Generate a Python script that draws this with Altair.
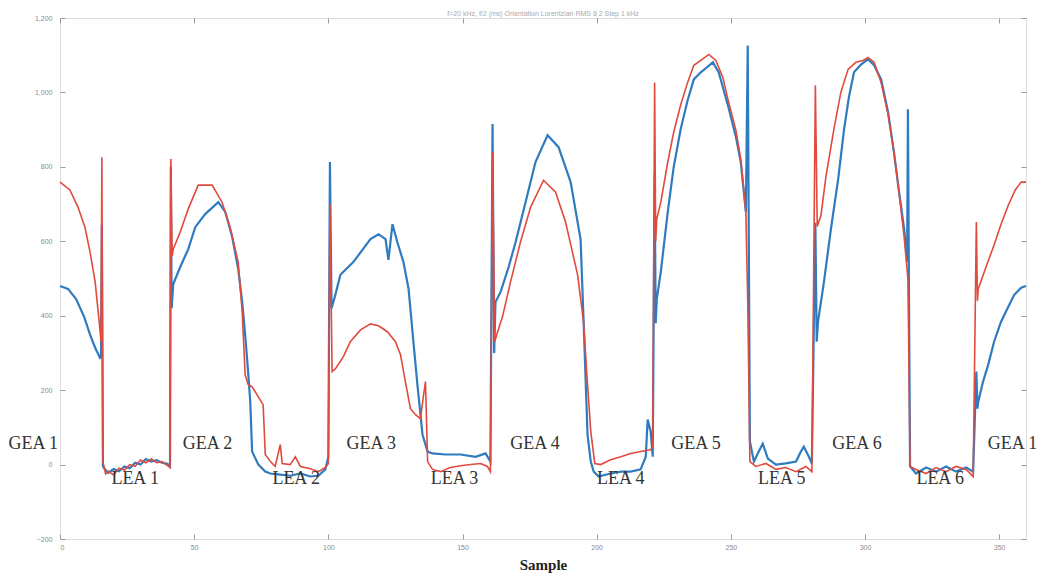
import altair as alt
import pandas as pd

# ---- data ----
blue_x = [0, 3.0, 6.0, 9.0, 11.2, 13.1, 14.9, 15.3, 15.6, 15.8, 16.0,
          17, 18, 20, 22, 24, 26, 28, 30, 32, 34, 36, 38, 40, 41,
          41.3, 41.6, 42.2, 44.8, 47.8, 50.4, 54.1, 59.0, 61.6, 64.2, 66.4, 67.9, 69.0, 70.1, 70.9, 71.6, 73.9, 76.5,
          78.4, 82.1, 85.8, 89.6, 93.3, 96.3, 98.9, 100.0,
          100.6, 101.2, 102.6, 104.5, 109.3, 112.7, 115.7, 118.7, 121.3, 122.4, 123.9, 125.7, 128.0, 129.9, 131.7, 133.2, 135.1, 137.0,
          138.8, 143.7, 149.3, 154.9, 158.6, 160.4,
          161.2, 161.8, 162.3, 164.2, 167.2, 169.8, 173.5, 177.2, 181.7, 185.8, 190.3, 194.0, 195.1, 196.6, 197.8, 198.9,
          200.7, 205.2, 209.0, 212.7, 216.4, 218.3, 219.0, 220.1, 220.9,
          221.6, 222.0, 222.4, 223.9, 226.5, 228.7, 231.3, 233.9, 236.2, 238.8, 241.0, 243.3, 245.5, 248.9, 251.9, 253.7, 255.6, 256.3, 257.1,
          258.6, 260.4, 261.9, 263.8, 266.8, 270.5, 274.3, 276.1, 277.2, 279.1, 280.2,
          281.5, 282.0, 282.5, 284.7, 287.3, 290.0, 292.2, 294.0, 295.9, 298.5, 301.1, 303.4, 306.0, 308.6, 310.8, 312.7, 314.6, 315.7, 316.0, 316.4, 316.8,
          319.0, 322.8, 326.5, 330.2, 333.9, 337.7, 340.3,
          341.5, 341.9, 342.2, 344.0, 345.9, 348.1, 350.7, 353.4, 355.6, 358.2, 360]
blue_y = [480, 472, 445, 397, 349, 314, 287, 290, 644, 300, -5,
          -15, -22, -12, -18, -5, -10, 5, 0, 15, 8, 12, 5, 2, -5,
          800, 420, 485, 531, 579, 638, 673, 705, 679, 611, 526, 437, 349, 249, 169, 35, 0, -19,
          -24, -27, -30, -24, -32, -30, -13, 21,
          813, 420, 456, 510, 544, 577, 606, 619, 606, 550, 646, 598, 544, 472, 330, 215, 80, 35,
          30, 27, 27, 21, 30, 8,
          915, 300, 437, 464, 531, 598, 705, 813, 885, 853, 759, 606, 392, 80, 8, -19,
          -32, -24, -19, -19, -13, 21, 121, 89, 21,
          780, 380, 445, 518, 679, 799, 901, 979, 1035, 1054, 1067, 1081, 1054, 966, 880, 813, 679, 1126, 62,
          8, 35, 56, 16, 0, 3, 8, 35, 48, 21, 3,
          650, 330, 384, 491, 633, 767, 901, 987, 1054, 1075, 1089, 1073, 1035, 947, 839, 732, 633, 544, 955, 437, -5,
          -24, -8, -19, -5, -19, -8, -19,
          250, 150, 169, 223, 268, 330, 384, 424, 456, 475, 480]

red_x = [0, 3.7, 6.7, 9.3, 11.2, 13.1, 14.6, 15.3, 15.6, 16.0,
         17, 18, 20, 22, 24, 26, 28, 30, 32, 34, 36, 38, 40, 41,
         41.3, 41.8, 42.2, 44.8, 47.8, 51.5, 56.7, 60.4, 63.4, 66.4, 67.9, 69.0, 70.1, 71.6, 73.9, 75.7, 76.5,
         78.4, 80.2, 82.1, 82.8, 85.8, 87.7, 89.6, 93.3, 96.3, 98.9, 100.0,
         100.6, 101.4, 102.6, 105.6, 108.2, 112.0, 115.7, 118.7, 122.0, 125.0, 126.9, 128.7, 130.6, 132.5, 134.3, 135.4, 136.2, 137.0,
         138.8, 141.8, 145.5, 149.3, 153.0, 156.7, 159.3, 160.4,
         161.2, 162.0, 163.1, 164.9, 167.9, 171.6, 175.4, 180.2, 184.7, 188.4, 192.9, 195.1, 196.6, 197.8, 199.3,
         201.5, 205.2, 209.0, 212.7, 216.4, 220.1, 220.9,
         221.6, 222.0, 222.4, 223.9, 226.5, 228.7, 231.3, 233.9, 236.2, 238.8, 241.8, 244.4, 247.0, 248.9, 251.9, 253.7, 255.6, 256.3, 257.1,
         259.3, 263.1, 266.8, 270.5, 274.3, 278.0, 280.2,
         281.5, 282.2, 283.6, 285.4, 288.4, 291.0, 293.7, 296.6, 299.3, 301.1, 303.4, 306.0, 308.6, 310.8, 312.7, 314.6, 316.0, 316.8,
         319.0, 322.8, 326.5, 330.2, 333.9, 337.7, 340.3,
         341.5, 341.9, 342.2, 345.1, 348.1, 350.7, 353.4, 356.0, 358.2, 360]
red_y = [759, 738, 692, 638, 571, 491, 384, 330, 826, 8,
         -25, -18, -28, -10, -15, 0, -5, 12, 5, 15, 5, 8, -2, -8,
         821, 560, 579, 625, 687, 751, 751, 705, 638, 544, 410, 241, 215, 209, 182, 161, 27,
         8, -5, 54, 3, 0, 21, -5, -11, -19, -8, 3,
         700, 250, 257, 290, 330, 362, 378, 373, 357, 330, 295, 223, 150, 134, 123, 182, 223, 8,
         -13, -19, -8, -3, 0, 3, -5, -19,
         840, 330, 357, 397, 491, 598, 692, 764, 732, 652, 510, 384, 215, 89, 3,
         0, 13, 21, 30, 35, 40, 48,
         1027, 600, 660, 705, 813, 893, 966, 1027, 1073, 1086, 1102, 1086, 1041, 982, 898, 821, 679, 437, 8,
         -5, 3, -13, -8, -19, -5, -19,
         1019, 640, 670, 772, 901, 1000, 1062, 1081, 1086, 1094, 1081, 1027, 941, 839, 732, 611, 499, -5,
         -13, -24, -8, -19, -5, -13, -32,
         652, 440, 472, 531, 590, 646, 697, 738, 759, 759]

seg_labels = ["GEA 1", "LEA 1", "GEA 2", "LEA 2", "GEA 3", "LEA 3", "GEA 4",
              "LEA 4", "GEA 5", "LEA 5", "GEA 6", "LEA 6", "GEA 1"]
seg_x = [-10, 28, 55, 88, 116, 147, 177, 209, 237, 269, 297, 328, 355]
seg_y = [54, -40, 54, -40, 54, -40, 54, -40, 54, -40, 54, -40, 54]

x_ticks = [0, 50, 100, 150, 200, 250, 300, 350]
y_ticks = [-200, 0, 200, 400, 600, 800, 1000, 1200]

title_text = "f=20 kHz, f/2 (ms)      Orientation Lorentzian   RMS 8      2 Step 1 kHz"

blue_df = pd.DataFrame({"x": blue_x, "y": blue_y, "i": range(len(blue_x))})
red_df = pd.DataFrame({"x": red_x, "y": red_y, "i": range(len(red_x))})
lab_df = pd.DataFrame({"label": seg_labels, "x": seg_x, "y": seg_y})

xscale = alt.Scale(domain=[0, 360], nice=False, zero=False)
yscale = alt.Scale(domain=[-200, 1200], nice=False, zero=False)

ax_common = dict(grid=False, domain=False, tickSize=5, offset=-5,
                 tickColor="#9a9a9a", labelColor="#8a8a8a", labelFontSize=7,
                 labelFont="Liberation Sans")

blue = alt.Chart(blue_df).mark_line(color="#2f7bbf", strokeWidth=2.2).encode(
    x=alt.X("x:Q", scale=xscale,
            axis=alt.Axis(orient="bottom", values=x_ticks, title="Sample",
                          titleFont="Liberation Serif", titleFontSize=15,
                          titleFontWeight="bold", titleColor="#222",
                          labelPadding=4, titlePadding=7, **ax_common)),
    y=alt.Y("y:Q", scale=yscale,
            axis=alt.Axis(orient="left", values=y_ticks, title=None,
                          labelPadding=8, **ax_common)),
    order="i:Q",
)

red = alt.Chart(red_df).mark_line(color="#e04a3f", strokeWidth=1.6).encode(
    x=alt.X("x:Q", scale=xscale,
            axis=alt.Axis(orient="top", values=x_ticks, title=None, labels=False,
                          **ax_common)),
    y=alt.Y("y:Q", scale=yscale,
            axis=alt.Axis(orient="right", values=y_ticks, title=None, labels=False,
                          **ax_common)),
    order="i:Q",
)

texts = alt.Chart(lab_df).mark_text(
    font="Liberation Serif", fontSize=18, color="#333333", align="center",
    baseline="middle"
).encode(
    x=alt.X("x:Q", scale=xscale, axis=None),
    y=alt.Y("y:Q", scale=yscale, axis=None),
    text="label:N",
)

chart = alt.layer(blue, red, texts).properties(
    width=966, height=521,
    title=alt.TitleParams(title_text, fontSize=7, color="#aaaaaa", offset=2, dy=5,
                          font="Liberation Sans", fontWeight="normal", anchor="middle"),
    autosize=alt.AutoSizeParams(type="none"),
    padding={"left": 52, "top": 10, "right": 14, "bottom": 44},
).configure_view(stroke="#a8a8a8", strokeWidth=1).configure(background="white")

chart.save("out.html", embed_options={"renderer": "svg", "actions": False})
